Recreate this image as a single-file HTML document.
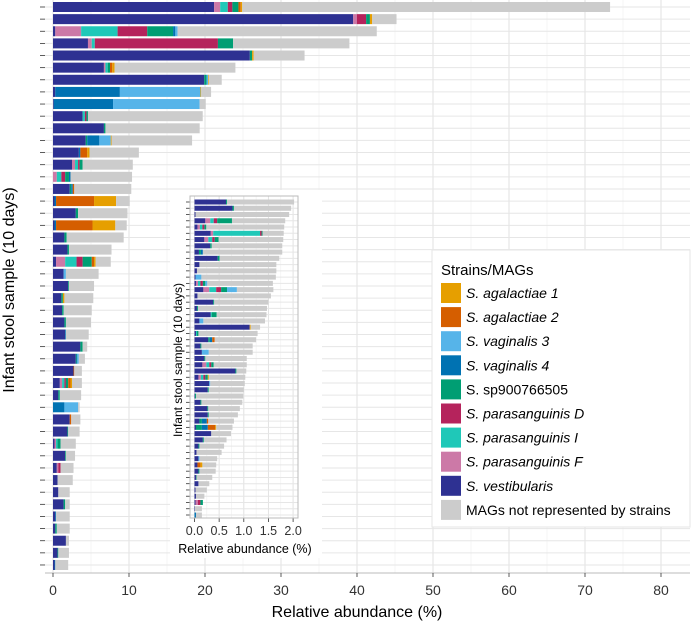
<!DOCTYPE html>
<html><head><meta charset="utf-8"><style>
html,body{margin:0;padding:0;background:#fff;}
svg{display:block;font-family:"Liberation Sans",Arial,sans-serif;}
</style></head><body>
<svg id="c" width="691" height="622" viewBox="0 0 691 622" xmlns="http://www.w3.org/2000/svg">
<rect x="0" y="0" width="691" height="622" fill="#fff"/>
<g id="main"></g>
<text x="14" y="290" transform="rotate(-90 14 290)" text-anchor="middle" font-size="16" fill="#000">Infant stool sample (10 days)</text>
<text x="357" y="617" text-anchor="middle" font-size="16" fill="#000">Relative abundance (%)</text>
<rect x="170" y="190" width="152" height="368" fill="#fff"/>
<g id="inset"></g>
<text x="182" y="360" transform="rotate(-90 182 360)" text-anchor="middle" font-size="12" fill="#000">Infant stool sample (10 days)</text>
<text x="245" y="553" text-anchor="middle" font-size="12.5" fill="#000">Relative abundance (%)</text>
<g id="legend">
<rect x="432" y="250" width="258" height="277" fill="#fff" stroke="#e5e5e5"/>
<text x="441" y="275" font-size="15" fill="#000">Strains/MAGs</text>
</g>
</svg>
<script>
const NS="http://www.w3.org/2000/svg";
const seriesNames=["S. vestibularis","S. parasanguinis F","S. parasanguinis I","S. parasanguinis D","S. sp900766505","S. vaginalis 4","S. vaginalis 3","S. agalactiae 2","S. agalactiae 1","MAGs not represented by strains"];
const seriesColors=["#2e3192","#cc79a7","#1fc8b8","#b5235c","#009e73","#0072b2","#56b4e9","#d55e00","#e69f00","#cccccc"];
const xTicks=[0,10,20,30,40,50,60,70,80];
const insetTicks=["0.0","0.5","1.0","1.5","2.0"];

const mVest=[21.2,39.5,0.3,4.6,25.9,6.7,19.9,0.3,0.1,3.9,6.7,4.3,3.4,2.5,0,2.2,0.2,3.0,0.2,1.5,1.9,0.4,1.4,2.0,1.1,1.2,1.5,1.6,3.6,3.0,2.7,0.9,0.7,0,2.2,1.9,0.2,1.6,0.5,0.6,0.7,1.4,0.3,0.3,1.7,0.6,0.2];
const mParF=[0.8,0.5,3.4,0.5,0,0.2,0,0,0,0,0,0,0,0.4,0.5,0,0,0,0,0,0,1.2,0,0,0,0,0,0,0,0,0,0.3,0,0,0,0,0.2,0,0.2,0,0,0,0,0,0,0,0];
const mParI=[1.0,0,4.8,0.4,0,0.3,0,0,0,0.3,0,0,0,0.4,0.6,0,0,0,0,0,0,1.5,0,0,0,0,0,0,0,0,0,0.3,0,0,0,0,0.2,0,0,0,0,0,0,0,0,0,0];
const mParD=[0.6,1.2,3.9,16.2,0,0,0,0,0,0.2,0,0,0,0.2,0.5,0,0,0,0,0,0,0.8,0,0,0,0,0,0,0,0,0,0.2,0,0,0,0,0,0,0.3,0,0,0,0,0,0,0,0];
const mSp=[0.8,0.5,3.4,2.0,0.3,0.3,0.3,0,0,0.2,0.2,0.2,0,0.4,0.5,0.2,0,0.3,0,0.3,0.2,1.2,0,0.1,0.2,0.2,0.2,0,0.3,0.1,0,0.3,0.2,0,0,0.1,0.4,0.1,0,0,0,0.2,0,0.2,0,0.1,0];
const mVag4=[0,0,0.3,0,0,0,0,8.5,7.8,0,0,1.6,0.2,0,0.2,0.2,0.2,0,0.2,0,0,0,0,0,0,0,0,0.1,0,0.1,0,0,0,1.5,0,0,0,0,0,0,0,0,0.1,0,0,0,0.1];
const mVag3=[0,0,0.3,0,0,0,0.2,10.6,11.4,0,0,1.5,0,0,0,0,0,0,0,0,0,0,0.3,0,0,0,0,0,0,0.2,0,0,0,1.8,0,0,0,0,0,0,0,0,0,0,0,0,0];
const mAga2=[0.3,0,0,0,0,0.3,0,0,0,0,0,0,0.9,0,0,0.2,5.0,0,4.8,0,0,0.3,0,0,0,0,0,0,0,0,0.1,0.3,0,0,0.2,0,0,0,0,0,0,0,0,0,0,0,0];
const mAga1=[0.2,0.3,0,0,0.2,0.3,0.1,0.1,0,0,0,0.1,0.3,0,0,0,2.9,0,3.0,0,0,0.2,0,0,0.2,0,0,0,0,0,0,0.2,0,0,0,0,0,0,0,0,0,0,0,0,0,0,0];
const mTotal=[73.3,45.2,42.6,39.0,33.1,24.0,22.2,20.8,20.1,19.7,19.3,18.3,11.3,10.5,10.4,10.3,10.1,9.8,9.7,9.3,7.7,7.6,6.0,5.4,5.3,5.1,5.0,4.7,4.5,4.2,3.8,3.8,3.7,3.5,3.6,3.5,3.0,2.9,2.7,2.6,2.2,2.2,2.2,2.2,2.1,2.1,2.0];

const iVest=[0.64,0.77,0.02,0.22,0.06,0.33,0.2,0.32,0.09,0.47,0.1,0.05,0.02,0.03,0.18,0.06,0.38,0.05,0.33,0.1,1.12,0.03,0.28,0.12,0.15,0.2,0.16,0.83,0.08,0.3,0.27,0.01,0.12,0.26,0.27,0.1,0.03,0.34,0.17,0.08,0.04,0.08,0.06,0.08,0.03,0.08,0.02,0.03,0.02,0.01,0];
const iParF=[0,0,0,0.1,0.05,0.05,0.08,0,0,0,0,0,0,0.04,0.12,0,0,0,0,0,0,0,0,0,0,0,0.08,0,0.05,0,0,0,0,0,0,0,0,0,0,0,0,0,0,0,0,0,0,0,0.05,0,0];
const iParI=[0,0,0,0.07,0.05,0.95,0.08,0,0,0,0,0,0,0.05,0.14,0,0,0,0.02,0,0,0.02,0,0,0,0,0.06,0,0.05,0,0,0,0,0,0,0,0,0,0,0,0,0,0,0,0,0,0,0,0,0,0];
const iParD=[0,0,0,0.07,0.04,0.03,0.05,0,0,0,0,0,0,0.05,0.1,0,0,0,0,0,0,0,0,0,0,0,0.04,0,0.04,0,0,0,0,0,0,0,0,0,0,0,0,0,0,0,0,0,0,0,0.05,0,0];
const iSp=[0.02,0.03,0,0.3,0.04,0.02,0.08,0.03,0.04,0.04,0,0,0,0.05,0.12,0,0.02,0.02,0.1,0,0,0.03,0.03,0.02,0,0.02,0.05,0.02,0.05,0,0.02,0.02,0.02,0.02,0.02,0.05,0.12,0,0.02,0.02,0,0,0,0.02,0.01,0,0,0,0.05,0,0];
const iVag4=[0,0,0,0,0,0,0,0,0.04,0,0,0,0,0,0,0,0,0,0,0,0,0,0.05,0,0,0,0,0,0,0,0,0,0,0,0,0.1,0.12,0,0,0,0,0,0,0,0,0,0,0,0,0,0.03];
const iVag3=[0,0,0,0,0,0,0,0,0,0,0,0,0.12,0.04,0.2,0,0,0,0,0.08,0,0,0,0,0.14,0,0,0,0,0.02,0,0,0,0,0,0,0,0,0,0,0,0.02,0,0,0,0,0,0,0,0,0];
const iAga2=[0,0,0,0,0,0,0,0,0,0,0,0,0,0,0,0,0,0,0,0,0,0,0.05,0,0,0,0,0,0,0,0,0,0,0,0,0.03,0.15,0,0,0,0,0,0.06,0,0,0,0,0,0,0,0];
const iAga1=[0,0,0,0,0,0,0,0,0,0,0,0,0,0,0,0,0,0,0,0,0.02,0,0,0,0,0,0,0,0.02,0,0,0,0,0,0,0,0.02,0,0,0,0,0,0.04,0,0,0,0,0,0,0,0];
const iTotal=[2.02,1.96,1.92,1.84,1.82,1.81,1.8,1.78,1.78,1.72,1.66,1.66,1.65,1.59,1.6,1.55,1.5,1.47,1.46,1.43,1.33,1.28,1.25,1.18,1.18,1.06,1.06,1.05,1.03,1.02,1.0,0.99,0.97,0.92,0.88,0.8,0.77,0.74,0.65,0.6,0.55,0.46,0.44,0.43,0.36,0.3,0.25,0.2,0.17,0.15,0.15];

function mk(tag,attrs,parent){const e=document.createElementNS(NS,tag);for(const k in attrs)e.setAttribute(k,attrs[k]);parent.appendChild(e);return e;}

function drawPanel(g,cfg){
  const {series,total,x,rowY,barH,left,right,top,bottom,majors,minors,labels,labelY,fs,tickLeft,prefix}=cfg;
  const n=total.length;
  minors.forEach(v=>{const l=mk('line',{x1:x(v),x2:x(v),y1:top,y2:bottom,stroke:'#efefef','stroke-width':0.6},g);
    
    });
  majors.forEach(v=>{const l=mk('line',{x1:x(v),x2:x(v),y1:top,y2:bottom,stroke:'#e2e2e2','stroke-width':1},g);
    
    });
  for(let i=0;i<n;i++){
    const y=rowY(i);
    const l=mk('line',{x1:left,x2:right,y1:y,y2:y,stroke:'#e6e6e6','stroke-width':1},g);
    
    
    const t=mk('line',{x1:left-tickLeft,x2:left,y1:y,y2:y,stroke:'#333','stroke-width':0.8},g);
    
    
    let acc=0;
    for(let s=0;s<series.length;s++){
      const v=series[s][i];
      if(v<=0)continue;
      const r=mk('rect',{x:x(acc),y:y-barH/2,width:Math.max(0,x(acc+v)-x(acc)),height:barH,fill:seriesColors[s]},g);
      
      
      acc+=v;
    }
    const o=total[i]-acc;
    if(o>0){const r=mk('rect',{x:x(acc),y:y-barH/2,width:x(acc+o)-x(acc),height:barH,fill:seriesColors[9]},g);
      
      }
  }
  const ax=mk('line',{x1:left,x2:right,y1:bottom,y2:bottom,stroke:'#bbb','stroke-width':1},g);
  
  
  majors.forEach((v,k)=>{
    const t=mk('line',{x1:x(v),x2:x(v),y1:bottom,y2:bottom+4,stroke:'#333','stroke-width':0.8},g);
    
    
    const tx=mk('text',{x:x(v),y:labelY,'text-anchor':'middle','font-size':fs,fill:'#333'},g);
    tx.textContent=labels[k];
    
    
  });
}

const mx=v=>53+v*7.6;
drawPanel(document.getElementById('main'),{
  series:[mVest,mParF,mParI,mParD,mSp,mVag4,mVag3,mAga2,mAga1],total:mTotal,x:mx,
  rowY:i=>7+i*12.13,barH:10,left:45,right:690,top:0,bottom:573,
  majors:xTicks,minors:xTicks.map(v=>v+5),labels:xTicks.map(String),labelY:595,fs:14,tickLeft:5,prefix:''
});
const ix=v=>194.5+v*49.3;
drawPanel(document.getElementById('inset'),{
  series:[iVest,iParF,iParI,iParD,iSp,iVag4,iVag3,iAga2,iAga1],total:iTotal,x:ix,
  rowY:i=>202+i*6.26,barH:5,left:190,right:298,top:196,bottom:518,
  majors:[0,0.5,1,1.5,2],minors:[0.25,0.75,1.25,1.75],labels:insetTicks,labelY:535,fs:12.5,tickLeft:4,prefix:'inset-'
});
const ib=mk('rect',{x:190,y:196,width:108,height:322,fill:'none',stroke:'#bbb','stroke-width':1},document.getElementById('inset'));



const leg=document.getElementById('legend');
const legOrder=[8,7,6,5,4,3,2,1,0,9];
legOrder.forEach((s,k)=>{
  const y=283+k*24.1;
  const r=mk('rect',{x:441,y:y,width:20,height:20,fill:seriesColors[s]},leg);
  
  
  const t=mk('text',{x:466,y:y+15,'font-size':14,fill:'#000'},leg);
  const nm=seriesNames[s];
  if(s!==9 && s!==4){t.setAttribute('font-style','italic');}
  t.textContent=nm;
  
  
});
</script>
</body></html>
